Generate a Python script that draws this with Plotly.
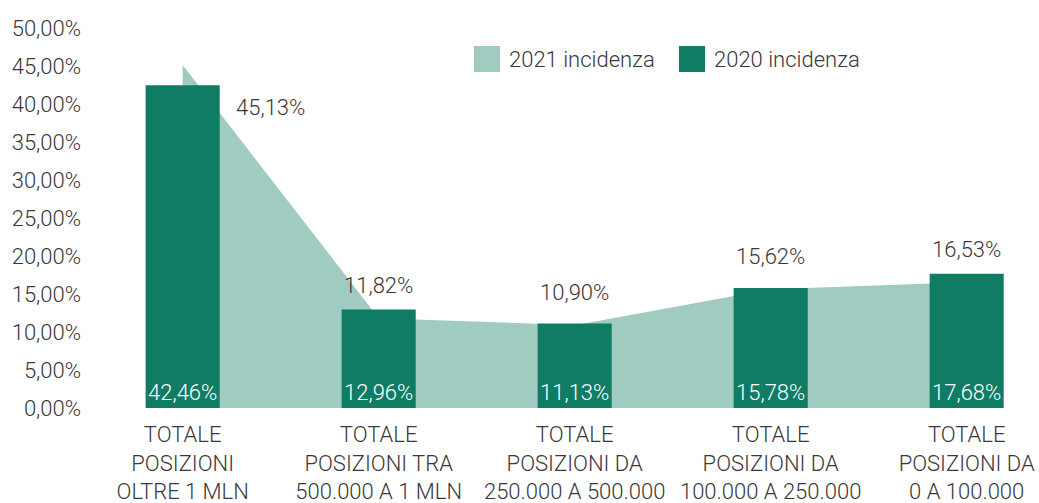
import plotly.graph_objects as go

categories = [
    "TOTALE<br>POSIZIONI<br>OLTRE 1 MLN",
    "TOTALE<br>POSIZIONI TRA<br>500.000 A 1 MLN",
    "TOTALE<br>POSIZIONI DA<br>250.000 A 500.000",
    "TOTALE<br>POSIZIONI DA<br>100.000 A 250.000",
    "TOTALE<br>POSIZIONI DA<br>0 A 100.000",
]
incidenza_2021 = [0.4513, 0.1182, 0.1090, 0.1562, 0.1653]
incidenza_2020 = [0.4246, 0.1296, 0.1113, 0.1578, 0.1768]
series_names = ["2021 incidenza", "2020 incidenza"]

LIGHT = "#A0CBC0"
DARK = "#107C63"
TXT = "#383838"
FONT = "Roboto"
FS = 22
FW = 300

W, H = 1039, 503
ML, MR, MT, MB = 88, 0, 28, 95
PW = W - ML - MR
PH = H - MT - MB
XR = [-0.483, 4.369]


def fmt(v):
    return f"{v*100:.2f}".replace(".", ",") + "%"


def font(color=TXT):
    return dict(size=FS, color=color, family=FONT, weight=FW)


fig = go.Figure()

fig.add_trace(go.Scatter(
    x=categories, y=incidenza_2021, name=series_names[0],
    mode="lines", fill="tozeroy", fillcolor=LIGHT,
    line=dict(width=0, color=LIGHT), showlegend=False,
    xaxis="x", yaxis="y",
))

fig.add_trace(go.Bar(
    x=categories, y=incidenza_2020, name=series_names[1],
    marker=dict(color=DARK, line=dict(width=0)), width=0.378,
    text=[fmt(v) for v in incidenza_2020], textposition="inside",
    insidetextanchor="start", constraintext="none", textangle=0,
    textfont=font("white"),
    showlegend=False, xaxis="x2", yaxis="y2",
))

annotations = []
for i, (c, v) in enumerate(zip(categories, incidenza_2021)):
    if i == 0:
        xs, ys = 88, -42
    else:
        xs, ys = 0, 33
    annotations.append(dict(
        x=c, y=v, xref="x", yref="y", text=fmt(v), showarrow=False,
        xshift=xs, yshift=ys, font=font(),
    ))


def px_x(p):
    return (p - ML) / PW


def px_y(p):
    return (H - MB - p) / PH


# legend swatches + labels
swatches = [(474, 500, LIGHT, 507), (679, 705, DARK, 712)]
shapes = []
for (x0, x1, col, tx), name in zip(swatches, series_names):
    shapes.append(dict(type="rect", xref="paper", yref="paper",
                       x0=px_x(x0), x1=px_x(x1), y0=px_y(72), y1=px_y(46),
                       fillcolor=col, line=dict(width=0), layer="above"))
    annotations.append(dict(x=px_x(tx), y=px_y(59), xref="paper", yref="paper",
                            xanchor="left", yanchor="middle", text=name,
                            showarrow=False, font=font()))

fig.update_layout(
    width=W, height=H,
    margin=dict(l=ML, r=MR, t=MT, b=MB),
    paper_bgcolor="white", plot_bgcolor="white",
    separators=",.",
    font=font(),
    xaxis=dict(type="category", range=XR, showgrid=False, zeroline=False,
               showline=False, ticks="", tickfont=font(), automargin=False,
               tickangle=0, ticklabelstandoff=11),
    yaxis=dict(range=[0, 0.5], dtick=0.05, tickformat=".2%", showgrid=False,
               zeroline=False, showline=False, ticks="", automargin=False,
               ticklabelstandoff=6, tickfont=font()),
    xaxis2=dict(type="category", range=XR, overlaying="x", visible=False,
                categoryorder="array", categoryarray=categories),
    yaxis2=dict(range=[0, 0.5], overlaying="y", visible=False),
    annotations=annotations,
    shapes=shapes,
    showlegend=False,
)

fig.write_html("out.html", config={"displayModeBar": False},
               post_script="document.body.style.margin='0px';")
